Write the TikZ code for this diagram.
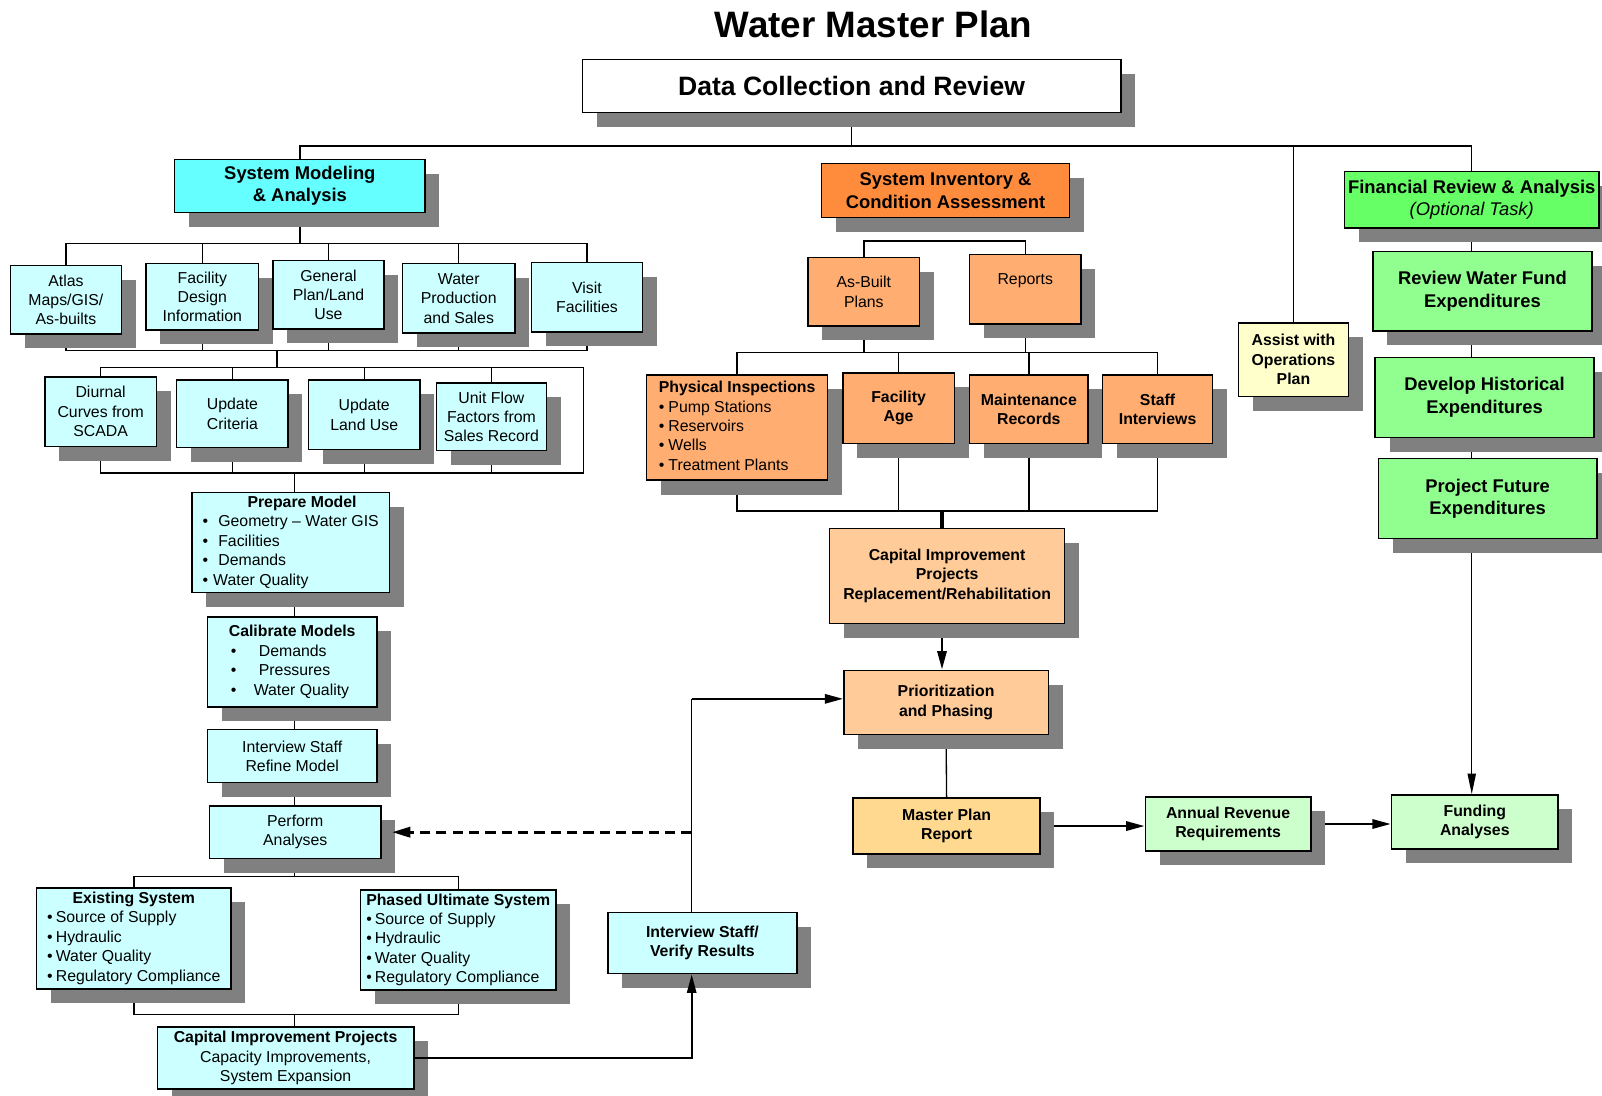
\documentclass[tikz,border=0pt]{standalone}
\usepackage{fontspec}
\setmainfont{Liberation Sans}
\usetikzlibrary{shadows,arrows.meta}
\pgfdeclarelayer{bg}
\pgfsetlayers{bg,main}
\definecolor{shgray}{HTML}{808080}
\definecolor{hcyan}{HTML}{66FFFF}
\definecolor{lcyan}{HTML}{CCFFFF}
\definecolor{horange}{HTML}{FF8C3C}
\definecolor{lorange}{HTML}{FFAD70}
\definecolor{peach}{HTML}{FFCC99}
\definecolor{myellow}{HTML}{FFD98F}
\definecolor{lyellow}{HTML}{FFFFCC}
\definecolor{lgreen}{HTML}{CCFFCC}
\definecolor{hgreen}{HTML}{66FF66}
\definecolor{mgreen}{HTML}{90FF90}
\tikzset{
  boxst/.style={draw=black, line width=1.4pt, rectangle, inner sep=1pt, align=center,
    font=\fontsize{15.5}{19}\selectfont,
    drop shadow={shadow xshift=14pt, shadow yshift=-14pt, opacity=1, fill=shgray}},
  hdrst/.style={boxst, font=\fontsize{18}{22}\selectfont\bfseries},
  bldst/.style={boxst, font=\fontsize{15.5}{19}\selectfont\bfseries},
  connst/.style={line width=1.3pt},
  thkarr/.style={line width=2.4pt, -{Triangle[length=18pt,width=9pt]}},
  thinarr/.style={line width=1.4pt, -{Triangle[length=20pt,width=8pt]}},
  dasharr/.style={line width=3pt, dash pattern=on 10pt off 6pt, -{Triangle[length=18pt,width=10pt]}},
}
\newcommand\bx[7]{%
  \pgfmathsetmacro\bxw{#4-#2}\pgfmathsetmacro\bxh{#5-#3}%
  \pgfmathsetmacro\bxx{(#2+#4)/2}\pgfmathsetmacro\bxy{(#3+#5)/2}%
  \node[#6, minimum width=\bxw pt, minimum height=\bxh pt] (#1) at (\bxx,\bxy) {#7};}
\begin{document}
\begin{tikzpicture}[x=1pt,y=-1pt]
\useasboundingbox (0,0) rectangle (1568,1072);

\node[font=\fontsize{36}{40}\selectfont\bfseries] (title) at (855,24) {Water Master Plan};
\bx{dcr}{570}{58}{1097}{110}{boxst, fill=white, font=\fontsize{26}{30}\selectfont\bfseries}{Data Collection and Review}

% level 1
\bx{sma}{171}{156}{416}{208}{hdrst, fill=hcyan}{System Modeling\\\& Analysis}
\bx{sia}{804}{160}{1047}{213}{hdrst, fill=horange}{System Inventory \&\\Condition Assessment}
\bx{fin}{1316}{168}{1565}{223}{hdrst, fill=hgreen}{Financial Review \& Analysis\\{\mdseries\itshape (Optional Task)}}
\bx{assist}{1212}{316}{1320}{388}{bldst, fill=lyellow}{Assist with\\Operations\\Plan}

% left: row 1
\bx{atlas}{10}{260}{119}{327}{boxst, fill=lcyan}{Atlas\\Maps/GIS/\\As-builts}
\bx{fdi}{143}{258}{253}{323}{boxst, fill=lcyan}{Facility\\Design\\Information}
\bx{gpl}{267}{255}{376}{322}{boxst, fill=lcyan}{General\\Plan/Land\\Use}
\bx{wps}{394}{258}{504}{326}{boxst, fill=lcyan}{Water\\Production\\and Sales}
\bx{visit}{520}{257}{629}{325}{boxst, fill=lcyan}{Visit\\Facilities}
% row 2
\bx{dc}{44}{369}{153}{437}{boxst, fill=lcyan}{Diurnal\\Curves from\\SCADA}
\bx{uc}{173}{372}{282}{438}{boxst, fill=lcyan}{Update\\Criteria}
\bx{ul}{302}{372}{411}{440}{boxst, fill=lcyan}{Update\\Land Use}
\bx{uf}{427}{375}{535}{441}{boxst, fill=lcyan}{Unit Flow\\Factors from\\Sales Record}
% column
\bx{pm}{188}{482}{381}{580}{boxst, fill=lcyan}{\begin{tabular}{@{}l@{}}\hspace*{44pt}\textbf{Prepare Model}\\
\textbullet\hspace{10pt}Geometry \textendash\ Water GIS\\
\textbullet\hspace{10pt}Facilities\\
\textbullet\hspace{10pt}Demands\\
\textbullet\hspace{5pt}Water Quality\end{tabular}}
\bx{cm}{203}{604}{369}{692}{boxst, fill=lcyan}{\begin{tabular}{@{}l@{}}\textbf{Calibrate Models}\\
\hspace*{2pt}\textbullet\hspace{22pt}Demands\\
\hspace*{2pt}\textbullet\hspace{22pt}Pressures\\
\hspace*{2pt}\textbullet\hspace{17pt}Water Quality\end{tabular}}
\bx{isr}{203}{714}{369}{766}{boxst, fill=lcyan}{Interview Staff\\Refine Model}
\bx{perf}{205}{789}{373}{840}{boxst, fill=lcyan}{Perform\\Analyses}
\bx{es}{36}{869}{226}{968}{boxst, fill=lcyan}{\begin{tabular}{@{}l@{}}\multicolumn{1}{@{}c@{}}{\textbf{Existing System}}\\
\textbullet\hspace{3pt}Source of Supply\\
\textbullet\hspace{3pt}Hydraulic\\
\textbullet\hspace{3pt}Water Quality\\
\textbullet\hspace{3pt}Regulatory Compliance\end{tabular}}
\bx{pu}{353}{871}{544}{969}{boxst, fill=lcyan}{\begin{tabular}{@{}l@{}}\multicolumn{1}{@{}c@{}}{\textbf{Phased Ultimate System}}\\
\textbullet\hspace{3pt}Source of Supply\\
\textbullet\hspace{3pt}Hydraulic\\
\textbullet\hspace{3pt}Water Quality\\
\textbullet\hspace{3pt}Regulatory Compliance\end{tabular}}
\bx{cip}{154}{1005}{405}{1066}{boxst, fill=lcyan}{\textbf{Capital Improvement Projects}\\Capacity Improvements,\\System Expansion}
\bx{isv}{595}{893}{780}{953}{bldst, fill=lcyan}{Interview Staff/\\Verify Results}

% middle
\bx{ab}{791}{252}{900}{319}{boxst, fill=lorange}{As-Built\\Plans}
\bx{rep}{949}{249}{1058}{317}{boxst, fill=lorange}{Reports\\~}
\bx{pi}{633}{367}{810}{470}{boxst, fill=lorange}{\begin{tabular}{@{}l@{}}\textbf{Physical Inspections}\\
\textbullet\hspace{4pt}Pump Stations\\
\textbullet\hspace{4pt}Reservoirs\\
\textbullet\hspace{4pt}Wells\\
\textbullet\hspace{4pt}Treatment Plants\end{tabular}}
\bx{fa}{825}{365}{934}{434}{bldst, fill=lorange}{Facility\\Age}
\bx{mr}{949}{367}{1065}{434}{bldst, fill=lorange}{Maintenance\\Records}
\bx{si}{1079}{367}{1187}{434}{bldst, fill=lorange}{Staff\\Interviews}
\bx{cipr}{812}{517}{1042}{610}{bldst, fill=peach}{Capital Improvement\\Projects\\Replacement/Rehabilitation}
\bx{prio}{826}{656}{1026}{719}{bldst, fill=peach}{Prioritization\\and Phasing}
\bx{mpr}{835}{781}{1018}{836}{bldst, fill=myellow}{Master Plan\\Report}
\bx{annual}{1121}{780}{1283}{833}{bldst, fill=lgreen}{Annual Revenue\\Requirements}
\bx{fund}{1362}{778}{1525}{831}{bldst, fill=lgreen}{Funding\\Analyses}

% right
\bx{rwf}{1344}{246}{1558}{324}{hdrst, fill=mgreen}{Review Water Fund\\Expenditures}
\bx{dhe}{1346}{350}{1560}{428}{hdrst, fill=mgreen}{Develop Historical\\Expenditures}
\bx{pfe}{1349}{449}{1563}{527}{hdrst, fill=mgreen}{Project Future\\Expenditures}

\coordinate (t1) at (830,143);
\coordinate (b5) at (0,238);
\coordinate (b6) at (0,343);
\coordinate (j1) at (271,343);
\coordinate (rc1) at (571,360);
\coordinate (rc2) at (571,463);
\coordinate (vx2) at (288,0);
\coordinate (b8) at (0,858);
\coordinate (b9) at (0,993);
\coordinate (ib) at (924,236);
\coordinate (b3) at (0,345);
\coordinate (b4) at (0,500);
\coordinate (vx) at (677,0);
\coordinate (vx3) at (922,0);
\coordinate (corner) at (677,684);

\begin{pgfonlayer}{bg}
\fill[white] (0,0) rectangle (1568,1072);
\draw[connst] (dcr.south) -- (dcr.south |- t1);
\draw[connst] (sma.north) |- (t1) -| (fin.north);
\draw[connst] (assist.north) -- (assist.north |- t1);
\draw[thinarr] (fin.south) -- (fin.south |- fund.north);
% left tree
\draw[connst] (sma.south) -- (sma.south |- b5);
\draw[connst] (atlas.north) |- (visit.north |- b5) -- (visit.north);
\foreach \n in {fdi,gpl,wps} \draw[connst] (\n.north) -- (\n.north |- b5);
\draw[connst] (atlas.south) |- (visit.south |- b6) -- (visit.south);
\foreach \n in {fdi,gpl,wps} \draw[connst] (\n.south) -- (\n.south |- b6);
\draw[connst] (j1) -- (j1 |- rc1);
\draw[connst] (dc.north) |- (rc1) -- (rc2) -| (dc.south);
\foreach \n in {uc,ul,uf} {\draw[connst] (\n.north) -- (\n.north |- rc1); \draw[connst] (\n.south) -- (\n.south |- rc2);}
\draw[connst] (vx2 |- rc2) -- (pm.north -| vx2);
\draw[connst] (pm.south -| vx2) -- (cm.north -| vx2);
\draw[connst] (cm.south -| vx2) -- (isr.north -| vx2);
\draw[connst] (isr.south -| vx2) -- (perf.north -| vx2);
\draw[connst] (perf.south -| vx2) -- (vx2 |- b8);
\draw[connst] (es.north) |- (pu.north |- b8) -- (pu.north);
\draw[connst] (es.south) |- (pu.south |- b9) -- (pu.south);
\draw[connst] (vx2 |- b9) -- (cip.north -| vx2);
% middle tree
\draw[connst] (ab.north) |- (ib) -| (rep.north);
\draw[connst] (ab.south) -- (ab.south |- b3);
\draw[connst] (rep.south) -- (rep.south |- b3);
\draw[connst] (pi.north) |- (si.north |- b3) -- (si.north);
\draw[connst] (fa.north) -- (fa.north |- b3);
\draw[connst] (mr.north) -- (mr.north |- b3);
\draw[connst] (pi.south) |- (si.south |- b4) -- (si.south);
\draw[connst] (fa.south) -- (fa.south |- b4);
\draw[connst] (mr.south) -- (mr.south |- b4);
\draw[line width=3pt] (vx3 |- b4) -- (cipr.north -| vx3);
\draw[thkarr] (cipr.south -| vx3) -- (prio.north -| vx3);
\draw[connst] (prio.south) -- (mpr.north);
\draw[thkarr] (mpr.east) -- (annual.west |- mpr.east);
\draw[thkarr] (annual.east) -- (fund.west |- annual.east);
% feedback loop
\draw[connst] (isv.north -| vx) -- (corner);
\draw[thkarr] (corner) -- (prio.west |- corner);
\end{pgfonlayer}
\draw[thkarr, line width=2pt] (cip.east) -| (isv.south -| vx);
\draw[dasharr, shorten >=10pt] (vx |- perf.east) -- (perf.east);
\end{tikzpicture}
\end{document}
